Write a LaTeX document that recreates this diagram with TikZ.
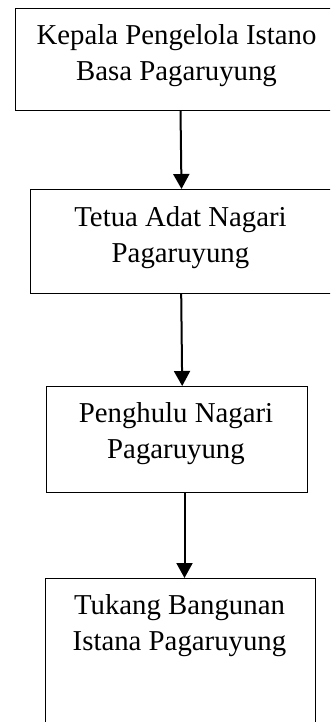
\documentclass[tikz,border=0pt]{standalone}
\usepackage{fontspec}
\setmainfont{Liberation Serif}
\usetikzlibrary{arrows.meta}
\begin{document}
\begin{tikzpicture}[x=1pt,y=-1pt,
  box/.style={draw=black, line width=1pt, rectangle, inner sep=0pt, anchor=north west},
  lbl/.style={font=\fontsize{28.8}{36}\selectfont, align=center, inner sep=0pt, anchor=base},
  arr/.style={draw=black, line width=2pt, -{Triangle[width=16pt,length=15pt]}}]
\useasboundingbox (0,0) rectangle (330,722);
\clip (0,0) rectangle (330,722);
\fill[white] (0,0) rectangle (330,722);
\node[box, minimum width=320pt, minimum height=102pt] (b1) at (15,8) {};
\node[box, minimum width=305pt, minimum height=104pt] (b2) at (30,189) {};
\node[box, minimum width=261pt, minimum height=106pt] (b3) at (46,386) {};
\node[box, minimum width=270pt, minimum height=152pt] (b4) at (45,578) {};
\node[lbl] (t1) at (176.5,81) {Kepala Pengelola Istano\\Basa Pagaruyung};
\node[lbl] (t2) at (180.5,262) {Tetua Adat Nagari\\Pagaruyung};
\node[lbl] (t3) at (176,458) {Penghulu Nagari\\Pagaruyung};
\node[lbl] (t4) at (179.5,650) {Tukang Bangunan\\Istana Pagaruyung};
\draw[arr] ([xshift=5pt]b1.south) -- ([xshift=-1.5pt]b2.north);
\draw[arr] ([xshift=-1.8pt]b2.south) -- ([xshift=5.2pt]b3.north);
\draw[arr] ([xshift=7.5pt]b3.south) -- ([xshift=4pt]b4.north);
\end{tikzpicture}
\end{document}
